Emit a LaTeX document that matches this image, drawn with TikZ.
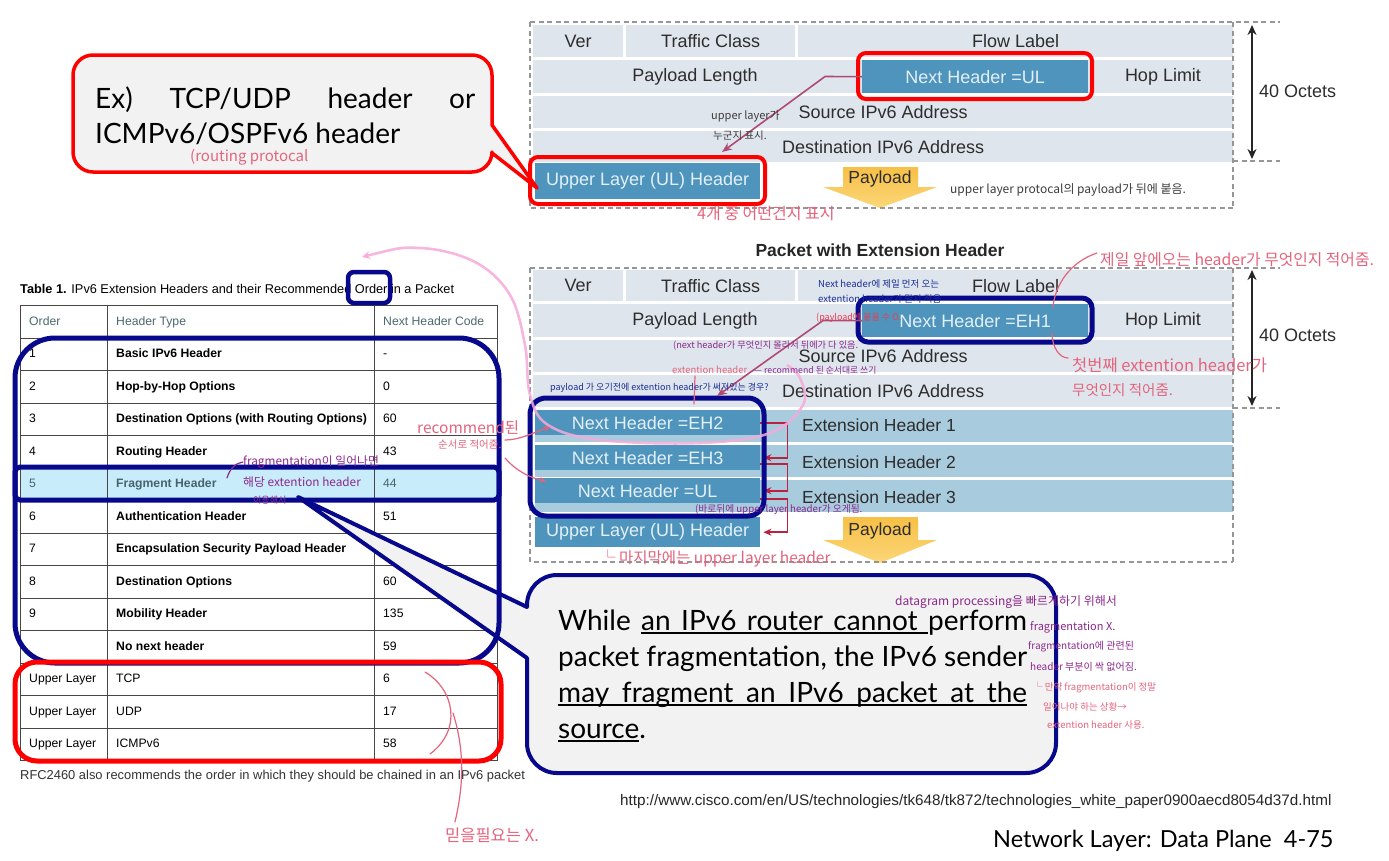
\documentclass[tikz,border=0pt]{standalone}
\usepackage{fontspec}
\setmainfont{Liberation Sans}
\newfontfamily\gill{Lato}
\newfontfamily\kr{Noto Sans CJK KR}
\usetikzlibrary{arrows.meta,calc}
\newcommand\fsz[1]{\fontsize{#1}{#1}\selectfont}
\newcommand\uw[1]{\setbox0\hbox{#1}\rlap{\rule[-3.6pt]{\wd0}{1.3pt}}\box0}
\newcommand\uls{\leaders\hrule height -2.3pt depth 3.6pt\hskip\fontdimen2\font plus\fontdimen3\font minus\fontdimen4\font\relax}
\definecolor{rowgray}{RGB}{223,229,236}
\definecolor{nhblue}{RGB}{78,148,188}
\definecolor{nhtext}{RGB}{228,240,247}
\definecolor{ehblue}{RGB}{168,203,221}
\definecolor{labelgray}{RGB}{45,45,45}
\definecolor{dashgray}{RGB}{150,150,150}
\definecolor{navy}{RGB}{8,8,140}
\definecolor{ptrpink}{RGB}{175,75,115}
\definecolor{brkred}{RGB}{185,35,65}
\definecolor{payA}{RGB}{247,192,70}
\definecolor{payB}{RGB}{251,214,120}
\definecolor{cgray}{RGB}{242,242,242}
\definecolor{tblline}{RGB}{70,70,70}
\definecolor{hdrtext}{RGB}{75,105,110}
\definecolor{fraghl}{RGB}{200,236,250}
\definecolor{fragtext}{RGB}{70,100,110}
\definecolor{hpink}{RGB}{228,100,125}
\definecolor{hpurple}{RGB}{140,40,140}
\definecolor{hnavy}{RGB}{25,45,150}
\definecolor{hdark}{RGB}{60,60,60}
\definecolor{bigpink}{RGB}{245,170,218}
\definecolor{hred}{RGB}{235,60,85}
\tikzset{
  cell/.style={fill=rowgray, anchor=north west, inner sep=0pt, font=\fsz{18}, text=labelgray},
  lbl/.style={font=\fsz{18}, text=labelgray, inner sep=0pt},
  nhbox/.style={fill=nhblue, anchor=north west, inner sep=0pt, font=\fsz{18}, text=nhtext},
  ehrow/.style={fill=ehblue, anchor=north west, inner sep=0pt},
  ehlbl/.style={font=\fsz{17.5}, text=labelgray, anchor=west, inner sep=0pt},
  dline/.style={draw=dashgray, line width=1.4pt, dash pattern=on 5pt off 3.5pt},
  redframe/.style={draw=red, line width=4pt, rounded corners=8pt},
  navyframe/.style={draw=navy, line width=5pt},
  ptr/.style={draw=ptrpink, line width=1.6pt, -{Stealth[length=10pt,width=8pt]}},
  brk/.style={draw=brkred, line width=1.8pt, -{Stealth[length=8pt,width=7pt]}},
  octarr/.style={draw=black!85, line width=1.5pt, {Stealth[length=10pt,width=9pt]}-{Stealth[length=10pt,width=9pt]}},
  payarrow/.style={top color=payA, bottom color=payB, draw=none},
  tcell/.style={draw=tblline, line width=1.3pt, anchor=north west, minimum height=32.5pt, inner sep=0pt},
  ttext/.style={anchor=west, inner sep=0pt, font=\fsz{12.2}, text height=9pt, text depth=2.5pt},
  ann/.style={anchor=west, inner sep=0pt, font={\kr\fsz{#1}}},
  hand/.style={line width=1.2pt, line cap=round},
  callout/.style={fill=cgray, line join=round},
  big/.style={font={\gill\fsz{28}}, anchor=base west, inner sep=0pt},
}
\newcommand\trow[6]{%
  \node[tcell,#5,minimum width=87pt] (r#1a) at (20,{305+32.5*#1}) {};
  \node[tcell,#5,minimum width=267pt] (r#1b) at (107,{305+32.5*#1}) {};
  \node[tcell,#5,minimum width=123pt] (r#1c) at (374,{305+32.5*#1}) {};
  \node[ttext,#5] (r#1at) at ([xshift=9pt]r#1a.west) {#2};
  \node[ttext,#5] (r#1bt) at ([xshift=9pt]r#1b.west) {#6#3};
  \node[ttext,#5] (r#1ct) at ([xshift=9pt]r#1c.west) {#4};}
\begin{document}
\begin{tikzpicture}[x=1pt,y=-1pt]
\useasboundingbox (0,0) rectangle (1389,860);
\fill[white] (0,0) rectangle (1389,860);

% ===== top diagram =====
\node[cell, minimum width=90pt, minimum height=32pt] (tver) at (533,25) {Ver};
\node[cell, minimum width=169pt, minimum height=32pt] (ttc) at (626,25) {Traffic Class};
\node[cell, minimum width=435pt, minimum height=32pt] (tfl) at (798,25) {Flow Label};
\node[cell, minimum width=700pt, minimum height=33pt] (trow2) at (533,60) {};
\node[lbl] (tpl) at (695,77) {Payload Length};
\node[nhbox, minimum width=226pt, minimum height=33pt] (tnh) at (862,60) {Next Header =UL};
\node[lbl] (thl) at (1163,77) {Hop Limit};
\node[cell, minimum width=700pt, minimum height=32pt] (tsrc) at (533,96) {Source IPv6 Address};
\node[cell, minimum width=700pt, minimum height=31pt] (tdst) at (533,131) {Destination IPv6 Address};
\node[nhbox, minimum width=225pt, minimum height=36pt] (tul) at (535,163) {Upper Layer (UL) Header};
\path[payarrow] (843,167) -- (918,167) -- (918,187) -- (937,187) -- (880,208) -- (823,187) -- (843,187) -- cycle;
\node[font=\fsz{17.5}, text=labelgray, inner sep=0pt] (tpay) at (880,179) {Payload};
\draw[dline] (530,22) -- (1280,22);
\draw[dline] (530,22) -- (530,208) -- (1233,208);
\draw[dline] (1233,22) -- (1233,208);
\draw[dline] (1233,161) -- (1280,161);
\coordinate (to1) at (1252,25);
\coordinate (to2) at (1252,159);
\draw[octarr] (to1) -- (to2);
\node[lbl, anchor=west] (toct) at (1259,91) {40 Octets};
\draw[redframe] (858,53) rectangle (1092,99);
\draw[redframe] (530,157) rectangle (765,204);
\coordinate (tptr) at (722,152);
\draw[ptr] (tnh.west) -- (825,76.5) -- (tptr);

% ===== callout 1 =====
\draw[callout, draw=red, line width=3.5pt] (93,55) -- (472,55) arc[start angle=-90, end angle=0, radius=20] -- (492,125) -- (537,188) -- (492,153) -- (492,152) arc[start angle=0, end angle=90, radius=20] -- (93,172) arc[start angle=90, end angle=180, radius=20] -- (73,75) arc[start angle=180, end angle=270, radius=20] -- cycle;
\node[big] (c1a) at (95,108) {\makebox[380pt][s]{Ex) TCP/UDP header or}};
\node[big] (c1b) at (95,143) {ICMPv6/OSPFv6 header};

% ===== bottom diagram =====
\node[font=\bfseries\fsz{17.5}, text=black!85, inner sep=0pt] (ptitle) at (880,250) {Packet with Extension Header};
\node[cell, minimum width=90pt, minimum height=31pt] (bver) at (533,270) {Ver};
\node[cell, minimum width=169pt, minimum height=31pt] (btc) at (626,270) {Traffic Class};
\node[cell, minimum width=435pt, minimum height=31pt] (bfl) at (798,270) {Flow Label};
\node[cell, minimum width=700pt, minimum height=33pt] (brow2) at (533,304) {};
\node[lbl] (bpl) at (695,321) {Payload Length};
\node[nhbox, minimum width=226pt, minimum height=33pt] (bnh) at (862,304) {Next Header =EH1};
\node[lbl] (bhl) at (1163,321) {Hop Limit};
\node[cell, minimum width=700pt, minimum height=32pt] (bsrc) at (533,340) {Source IPv6 Address};
\node[cell, minimum width=700pt, minimum height=32pt] (bdst) at (533,375) {Destination IPv6 Address};
\node[ehrow, minimum width=698pt, minimum height=32pt] (eh1) at (535,410) {};
\node[ehrow, minimum width=698pt, minimum height=32pt] (eh2) at (535,445) {};
\node[ehrow, minimum width=698pt, minimum height=32pt] (eh3) at (535,480) {};
\node[ehlbl] (eh1t) at (802,425) {Extension Header 1};
\node[ehlbl] (eh2t) at (802,462) {Extension Header 2};
\node[ehlbl] (eh3t) at (802,497) {Extension Header 3};
\node[nhbox, minimum width=225pt, minimum height=25pt] (nh2) at (535,410) {Next Header =EH2};
\node[nhbox, minimum width=225pt, minimum height=25pt] (nh3) at (535,445) {Next Header =EH3};
\node[nhbox, minimum width=225pt, minimum height=25pt] (nhul) at (535,478) {Next Header =UL};
\node[nhbox, minimum width=225pt, minimum height=30pt] (bul) at (535,517) {Upper Layer (UL) Header};
\path[payarrow] (843,517) -- (918,517) -- (918,540) -- (937,540) -- (880,563) -- (823,540) -- (843,540) -- cycle;
\node[font=\fsz{17.5}, text=labelgray, inner sep=0pt] (bpay) at (880,531) {Payload};
\draw[brk, shorten >=3pt] (nh2.east) -- ++(27,0) |- (nh3.east);
\draw[brk, shorten >=3pt] ($(nh3.east)+(0,6)$) -- ++(27,0) |- (nhul.east);
\draw[brk, shorten >=3pt] ($(nhul.east)+(0,8)$) -- ++(27,0) |- (bul.east);
\draw[dline] (530,268) -- (1280,268);
\draw[dline] (530,268) -- (530,562) -- (1233,562);
\draw[dline] (1233,268) -- (1233,562);
\draw[dline] (1233,408) -- (1280,408);
\coordinate (bo1) at (1252,270);
\coordinate (bo2) at (1252,406);
\draw[octarr] (bo1) -- (bo2);
\node[lbl, anchor=west] (boct) at (1259,335) {40 Octets};
\draw[navyframe, rounded corners=10pt] (858,298) rectangle (1092,342);
\draw[navyframe, rounded corners=16pt] (530,398) rectangle (764,516);
\coordinate (bptr) at (717,396);
\draw[ptr] (bnh.west) -- (823,320.5) -- (bptr);

% ===== table =====
\node[anchor=west, inner sep=0pt, font=\fsz{12.75}] (tcap) at (20,289) {\textbf{Table 1.} IPv6 Extension Headers and their Recommended Order in a Packet};
\trow{0}{Order}{Header Type}{Next Header Code}{text=hdrtext}{}
\trow{1}{1}{Basic IPv6 Header}{-}{}{\bfseries}
\trow{2}{2}{Hop-by-Hop Options}{0}{}{\bfseries}
\trow{3}{3}{Destination Options (with Routing Options)}{60}{}{\bfseries}
\trow{4}{4}{Routing Header}{43}{}{\bfseries}
\trow{5}{5}{Fragment Header}{44}{fill=fraghl,text=fragtext}{\bfseries}
\trow{6}{6}{Authentication Header}{51}{}{\bfseries}
\trow{7}{7}{Encapsulation Security Payload Header}{}{}{\bfseries}
\trow{8}{8}{Destination Options}{60}{}{\bfseries}
\trow{9}{9}{Mobility Header}{135}{}{\bfseries}
\trow{10}{}{No next header}{59}{}{\bfseries}
\trow{11}{Upper Layer}{TCP}{6}{}{}
\trow{12}{Upper Layer}{UDP}{17}{}{}
\trow{13}{Upper Layer}{ICMPv6}{58}{}{}
\node[anchor=west, inner sep=0pt, font=\fsz{12.9}, text=black!80] (tfoot) at (20,776) {RFC2460 also recommends the order in which they should be chained in an IPv6 packet};

% ===== callout 2 =====
\draw[callout, draw=navy, line width=4pt] (557,575) -- (1026,575) arc[start angle=-90, end angle=0, radius=30] -- (1056,743) arc[start angle=0, end angle=90, radius=30] -- (557,773) arc[start angle=90, end angle=180, radius=30] -- (527,658) -- (298,497) -- (527,607) -- (527,605) arc[start angle=180, end angle=270, radius=30] -- cycle;
\node[big] (c2a) at (558,630) {\makebox[469pt][s]{While \uw{an}\uls\uw{IPv6}\uls\uw{router}\uls\uw{cannot}\uls perform}};
\node[big] (c2b) at (558,666) {\makebox[469pt][s]{packet fragmentation, the IPv6 sender}};
\node[big] (c2c) at (558,702) {\makebox[469pt][s]{\uw{may}\uls\uw{fragment}\uls\uw{an}\uls\uw{IPv6}\uls\uw{packet}\uls\uw{at}\uls\uw{the}}};
\node[big] (c2d) at (558,738) {\uw{source}.};

% ===== frames on table =====
\draw[navyframe, line width=4.5pt, rounded corners=6pt] (348,272) rectangle (390,303);
\draw[navyframe, rounded corners=40pt] (15,338) rectangle (499,663);
\draw[navyframe, rounded corners=5pt] (15,467) rectangle (499,500);
\draw[draw=red, line width=5pt, rounded corners=22pt] (15,662) rectangle (501,761);

% ===== footer =====
\node[anchor=base west, inner sep=0pt, font=\fsz{15.25}, text=black!85] (url) at (620,805) {http://www.cisco.com/en/US/technologies/tk648/tk872/technologies\_white\_paper0900aecd8054d37d.html};
\node[anchor=base west, inner sep=0pt, font={\gill\fsz{23.5}}] (slide) at (993,847) {Network Layer: Data Plane\ \ 4-75};

% ===== big pink curve =====
\draw[draw=bigpink, line width=2.6pt, opacity=0.85, {Stealth[length=8pt,width=8pt]}-] plot[smooth, tension=0.6] coordinates {(362,257) (420,248) (475,262) (510,295) (525,345) (530,395) (548,425) (600,440) (700,443) (770,433) (803,405) (800,378) (787,365)};

% ===== handwriting strokes =====
\draw[hand, draw=hpink, -{Stealth[length=6pt,width=6pt]}] (505,440) .. controls (520,440) and (535,432) .. (550,427);
\draw[hand, draw=hpink, -{Stealth[length=6pt,width=6pt]}] (505,458) .. controls (515,470) and (530,478) .. (546,481);
\draw[hand, draw=hpink] (425,672) .. controls (455,690) and (462,730) .. (430,754);
\draw[hand, draw=hpink] (453,713) .. controls (468,760) and (460,800) .. (455,822);
\draw[hand, draw=hpink] (1097,253) .. controls (1070,262) and (1055,285) .. (1053,307);
\draw[hand, draw=hpink] (1052,333) .. controls (1052,348) and (1060,358) .. (1068,358);
\draw[hand, draw=hpink] (695,376) -- (694,404);
\draw[hand, draw=hpurple] (227,478) .. controls (230,468) and (236,463) .. (243,462);

% ===== annotations =====
\node[ann=11, text=hdark] (a1) at (711,116) {upper layer가};
\node[ann=10.5, text=hdark] (a2) at (713,136) {누군지 표시.};
\node[ann=16, text=hpink] (a3) at (697,214) {4개 중 어떤건지 표시};
\node[ann=12, text=hdark] (a4) at (950,190) {upper layer protocal의 payload가 뒤에 붙음.};
\node[ann=15, text=hpink] (a5) at (190,157) {(routing protocal};
\node[ann=15.8, text=hpink] (a6) at (1100,260) {제일 앞에오는 header가 무엇인지 적어줌.};
\node[ann=16.5, text=hpink] (a7) at (1072,365) {첫번째 extention header가};
\node[ann=14.5, text=hpink] (a8) at (1072,390) {무엇인지 적어줌.};
\node[ann=9.5, text=hnavy] (a9) at (818,284) {Next header에 제일 먼저 오는};
\node[ann=9.5, text=hnavy] (a10) at (818,299) {extention header가 뭔지 적음};
\node[ann=9, text=hred] (a11) at (816,318) {(payload에 붙을 수 O.};
\node[ann=9.2, text=hpurple] (a12) at (673,346) {(next header가 무엇인지 몰라서 뒤에가 다 있음.};
\node[ann=9.5, text=hpink] (a13) at (672,370) {extention header};
\node[ann=8.8, text=hpurple] (a14) at (754,370) {— recommend 된 순서대로 쓰기};
\node[ann=9, text=hnavy] (a15) at (550,388) {payload 가 오기전에 extention header가 써져있는 경우?};
\node[ann=15.5, text=hpink] (a16) at (417,428) {recommend된};
\node[ann=10.5, text=hpink] (a17) at (438,445) {순서로 적어줌.};
\node[ann=11.8, text=hpurple] (a18) at (243,462) {fragmentation이 일어나면};
\node[ann=11.8, text=hpurple] (a19) at (243,482) {해당 extention header};
\node[ann=9, text=hpurple] (a20) at (253,500) {이용해서};
\node[ann=9.7, text=hpurple] (a21) at (695,510) {(바로뒤에 upper layer header가 오게됨.};
\node[ann=15.5, text=hpink] (a22) at (600,558) {└ 마지막에는 upper layer header.};
\node[ann=12, text=hpurple] (a23) at (895,602) {datagram processing을 빠르게하기 위해서};
\node[ann=11, text=hpurple] (a24) at (1030,627) {fragmentation X.};
\node[ann=10, text=hpurple] (a25) at (1028,647) {fragmentation에 관련된};
\node[ann=10, text=hpurple] (a26) at (1030,667) {header 부분이 싹 없어짐.};
\node[ann=9.5, text=hpink] (a27) at (1033,687) {└ 만약 fragmentation이 정말};
\node[ann=9.5, text=hpink] (a28) at (1043,707) {일어나야 하는 상황→};
\node[ann=9.5, text=hpink] (a29) at (1047,725) {extention header 사용.};
\node[ann=16.5, text=hpink] (a30) at (445,835) {믿을필요는 X.};
\end{tikzpicture}
\end{document}
